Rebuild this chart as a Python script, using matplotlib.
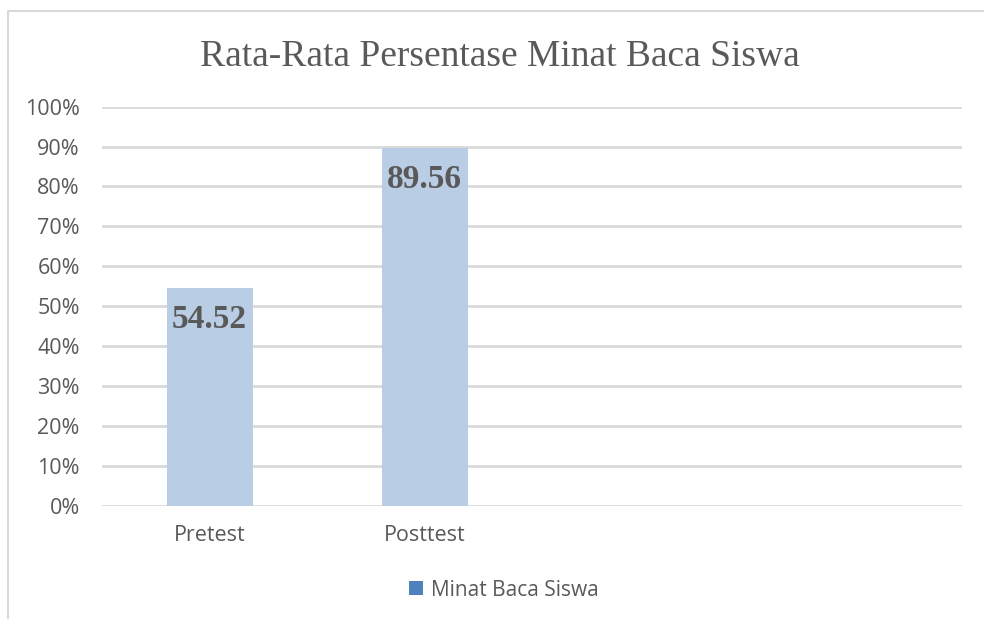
import matplotlib.pyplot as plt
from matplotlib.patches import Patch
from matplotlib.lines import Line2D

# data
categories = ['Pretest', 'Posttest']
n_slots = 4  # the chart reserves four category slots, only two are filled
values = [54.52, 89.56]
y_ticks = [0, 10, 20, 30, 40, 50, 60, 70, 80, 90, 100]
series_name = 'Minat Baca Siswa'
title = 'Rata-Rata Persentase Minat Baca Siswa'

text_color = '#595959'
grid_color = '#D9D9D9'
bar_color = '#B9CDE5'
legend_color = '#4F81BD'

fig = plt.figure(figsize=(9.84, 6.19), dpi=100)
ax = fig.add_axes([102 / 984, 1 - 505.7 / 619, 860 / 984, (505.7 - 106.7) / 619])

x = list(range(len(categories)))
bars = ax.bar(x, values, width=0.4, color=bar_color, zorder=2)

# value labels sit inside the top of each bar
for b, v in zip(bars, values):
    ax.annotate(f'{v:.2f}', xy=(b.get_x() + b.get_width() / 2, v), xytext=(0, -31),
                textcoords='offset pixels', ha='center', va='center',
                fontsize=24, fontweight='bold', family='Liberation Serif',
                color=text_color, zorder=3)

ax.set_xlim(-0.5, n_slots - 0.5)
ax.set_ylim(0, 100)
ax.set_yticks(y_ticks)
ax.set_yticklabels([f'{t}%' for t in y_ticks], family='Open Sans', fontsize=15.5, color=text_color)
ax.set_xticks(x)
ax.set_xticklabels(categories, family='Open Sans', fontsize=15.5, color=text_color)
ax.tick_params(axis='both', length=0)
ax.tick_params(axis='y', pad=16)
ax.tick_params(axis='x', pad=14)
ax.yaxis.grid(True, color=grid_color, linewidth=2, zorder=0)
ax.set_axisbelow(True)
for s in ax.spines.values():
    s.set_visible(False)

fig.text(500 / 984, 1 - 66 / 619, title, ha='center', va='baseline',
         family='Liberation Serif', fontsize=27, color=text_color)

handle = Patch(facecolor=legend_color, edgecolor='none', label=series_name)
fig.legend(handles=[handle], loc='center', bbox_to_anchor=(504 / 984, 1 - 590 / 619),
           frameon=False, prop={'family': 'Open Sans', 'size': 15},
           handlelength=0.65, handleheight=0.65, handletextpad=0.4, labelcolor=text_color)

# chart border (only top and left edges visible in the crop)
fig.add_artist(Line2D([8 / 984, 8 / 984, 1], [0, 1 - 10.5 / 619, 1 - 10.5 / 619],
                      transform=fig.transFigure, color=grid_color, linewidth=1.5))

fig.savefig('out.png', dpi=100, facecolor='white')
